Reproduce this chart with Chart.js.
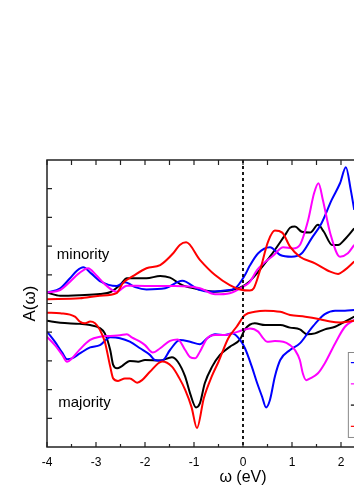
<!DOCTYPE html>
<html lang="en">

<head>
    <meta charset="UTF-8">
    <title>A(w) spectral function</title>
    <script src="https://cdn.jsdelivr.net/npm/chart.js"></script>
    <style>
        html, body { margin: 0; padding: 0; overflow: hidden; background: #fff; }
        canvas { display: block; }
    </style>
</head>

<body>
    <canvas id="grafico" width="480" height="487"></canvas>

<script>
    // omega (eV) and A(omega), minority (upper) and majority (lower)
    const minBlackX = [-4.0, -3.73, -3.33, -2.92, -2.7, -2.51, -2.37, -1.97, -1.69, -1.49, -1.24, -0.88, -0.57, -0.27, -0.06, 0.14, 0.55, 0.86, 0.96, 1.06, 1.2, 1.37, 1.53, 1.65, 1.82, 1.94, 2.08, 2.27];
    const minBlackY = [5.38, 5.27, 5.29, 5.33, 5.40, 5.64, 5.88, 5.88, 5.96, 5.90, 5.64, 5.49, 5.41, 5.45, 5.55, 5.78, 6.63, 7.39, 7.64, 7.68, 7.50, 7.47, 7.74, 7.50, 7.04, 7.04, 7.24, 7.62];

    const minRedX = [-4.0, -3.33, -2.92, -2.58, -2.45, -2.24, -1.97, -1.69, -1.42, -1.29, -1.16, -0.88, -0.57, -0.27, -0.06, 0.14, 0.22, 0.35, 0.51, 0.65, 0.8, 0.96, 1.16, 1.47, 1.78, 1.94, 2.08, 2.27];
    const minRedY = [5.15, 5.18, 5.27, 5.36, 5.71, 5.96, 6.23, 6.34, 6.76, 7.04, 7.13, 6.52, 5.99, 5.64, 5.49, 5.45, 5.53, 6.17, 7.15, 7.54, 7.47, 6.98, 6.63, 6.40, 6.11, 6.03, 6.17, 6.46];

    const minBlueX = [-4.0, -3.73, -3.53, -3.39, -3.26, -3.1, -2.9, -2.58, -2.41, -2.2, -1.97, -1.59, -1.24, -0.91, -0.64, -0.37, -0.16, 0.04, 0.14, 0.31, 0.55, 0.76, 0.99, 1.2, 1.4, 1.6, 1.81, 1.98, 2.1, 2.2, 2.27];
    const minBlueY = [5.38, 5.53, 5.88, 6.14, 6.26, 6.05, 5.76, 5.61, 5.74, 5.57, 5.49, 5.53, 5.79, 5.49, 5.41, 5.45, 5.53, 5.99, 6.32, 6.75, 6.96, 6.69, 6.63, 6.75, 7.27, 7.79, 8.61, 9.19, 9.75, 8.95, 8.26];

    const minMagX = [-4.0, -3.73, -3.53, -3.35, -3.16, -3.0, -2.8, -2.58, -2.37, -2.0, -1.39, -0.88, -0.57, -0.27, 0.04, 0.14, 0.29, 0.63, 0.82, 1.02, 1.16, 1.33, 1.45, 1.54, 1.63, 1.78, 1.98, 2.14, 2.27];
    const minMagY = [5.38, 5.47, 5.76, 6.05, 6.23, 5.99, 5.64, 5.41, 5.62, 5.61, 5.61, 5.53, 5.32, 5.36, 5.62, 5.75, 6.17, 6.69, 6.96, 6.92, 7.04, 7.91, 8.84, 9.19, 8.61, 7.45, 6.63, 6.75, 7.04];

    const majBlackX = [-4.0, -3.73, -3.33, -3.12, -2.92, -2.82, -2.71, -2.65, -2.57, -2.47, -2.31, -2.14, -2.0, -1.69, -1.45, -1.33, -1.18, -1.08, -0.96, -0.88, -0.78, -0.63, -0.47, -0.27, -0.06, 0.04, 0.24, 0.45, 0.76, 0.96, 1.16, 1.31, 1.47, 1.67, 1.88, 2.08, 2.27];
    const majBlackY = [4.40, 4.33, 4.29, 4.25, 4.14, 3.96, 3.38, 2.86, 2.74, 2.82, 3.00, 2.97, 3.03, 3.01, 3.13, 2.97, 2.45, 1.87, 1.38, 1.52, 2.22, 2.80, 3.21, 3.49, 3.75, 4.10, 4.31, 4.25, 4.25, 4.16, 4.10, 3.93, 3.96, 4.10, 4.19, 4.37, 4.54];

    const majRedX = [-4.0, -3.73, -3.43, -3.33, -3.22, -3.12, -3.02, -2.92, -2.82, -2.71, -2.65, -2.55, -2.41, -2.31, -2.16, -2.06, -1.9, -1.65, -1.45, -1.3, -1.18, -1.05, -0.94, -0.8, -0.64, -0.5, -0.3, -0.13, 0.04, 0.24, 0.45, 0.76, 0.96, 1.27, 1.57, 1.78, 1.98, 2.27];
    const majRedY = [4.68, 4.66, 4.54, 4.37, 4.31, 4.37, 4.31, 4.08, 3.67, 2.80, 2.39, 2.30, 2.39, 2.39, 2.24, 2.33, 2.62, 2.98, 2.80, 2.40, 1.99, 1.39, 0.66, 1.70, 2.45, 2.97, 3.79, 4.19, 4.60, 4.71, 4.75, 4.71, 4.60, 4.54, 4.45, 4.37, 4.34, 4.40];

    const majBlueX = [-4.0, -3.84, -3.69, -3.59, -3.49, -3.33, -3.12, -2.92, -2.71, -2.51, -2.31, -2.1, -1.9, -1.8, -1.65, -1.49, -1.29, -1.08, -0.88, -0.73, -0.57, -0.37, -0.22, -0.06, 0.04, 0.18, 0.29, 0.39, 0.47, 0.55, 0.65, 0.76, 0.96, 1.16, 1.37, 1.51, 1.67, 1.88, 2.08, 2.27];
    const majBlueY = [4.02, 3.67, 3.29, 3.06, 3.09, 3.26, 3.47, 3.55, 3.82, 3.79, 3.67, 3.44, 3.21, 3.03, 3.01, 3.38, 3.73, 3.67, 3.58, 3.79, 3.93, 3.90, 3.96, 3.73, 3.44, 2.80, 2.22, 1.75, 1.38, 1.64, 2.45, 3.03, 3.38, 3.61, 4.08, 4.37, 4.63, 4.75, 4.75, 4.77];

    const majMagX = [-4.0, -3.84, -3.69, -3.59, -3.49, -3.33, -3.12, -2.92, -2.71, -2.51, -2.37, -2.27, -2.1, -2.0, -1.84, -1.69, -1.49, -1.33, -1.18, -1.08, -0.98, -0.88, -0.73, -0.57, -0.37, -0.22, -0.06, 0.14, 0.31, 0.39, 0.49, 0.65, 0.82, 0.96, 1.06, 1.16, 1.22, 1.29, 1.37, 1.53, 1.67, 1.88, 2.08, 2.27];
    const majMagY = [3.84, 3.55, 3.21, 2.97, 3.09, 3.40, 3.73, 3.84, 3.87, 3.89, 3.93, 3.82, 3.67, 3.55, 3.29, 3.44, 3.70, 3.75, 3.38, 3.13, 3.09, 3.32, 3.79, 3.90, 3.90, 3.96, 4.04, 4.13, 4.02, 3.84, 3.67, 3.69, 3.67, 3.55, 3.38, 3.03, 2.57, 2.33, 2.39, 2.57, 2.92, 3.61, 4.19, 4.43];

    const xTicks = [-4, -3, -2, -1, 0, 1, 2, 3, 4];
    const legendColors = ['#0000ff', '#ff00ff', '#000000', '#ff0000'];

    const fonte = "'Liberation Sans', Arial, sans-serif";

    function pontos(xs, ys) {
        return xs.map((x, i) => ({ x: x, y: ys[i] }));
    }

    function serie(xs, ys, cor) {
        return {
            data: pontos(xs, ys),
            borderColor: cor,
            borderWidth: 2,
            pointRadius: 0,
            fill: false,
            cubicInterpolationMode: 'monotone'
        };
    }

    // frame, inward ticks, dashed zero line, labels and the cut-off legend box
    const extras = {
        id: 'extras',
        afterDatasetsDraw(chart) {
            const ctx = chart.ctx;
            const a = chart.chartArea;
            const sx = chart.scales.x;
            const sy = chart.scales.y;

            ctx.save();
            // dashed line at omega = 0
            ctx.strokeStyle = '#000';
            ctx.lineWidth = 1.8;
            ctx.setLineDash([3, 3]);
            ctx.beginPath();
            ctx.moveTo(sx.getPixelForValue(0), a.top);
            ctx.lineTo(sx.getPixelForValue(0), a.bottom);
            ctx.stroke();
            ctx.setLineDash([]);

            // frame
            ctx.strokeStyle = '#222';
            ctx.lineWidth = 1.5;
            ctx.strokeRect(a.left, a.top, a.right - a.left, a.bottom - a.top);

            // ticks pointing inward
            ctx.lineWidth = 1.2;
            ctx.beginPath();
            for (let v = -4; v <= 4; v += 0.5) {
                const px = sx.getPixelForValue(v);
                const major = Number.isInteger(v);
                ctx.moveTo(px, a.bottom);
                ctx.lineTo(px, a.bottom - (major ? 5 : 3));
                ctx.moveTo(px, a.top);
                ctx.lineTo(px, a.top + 5);
            }
            for (let v = 1; v < 10; v++) {
                const py = sy.getPixelForValue(v);
                ctx.moveTo(a.left, py);
                ctx.lineTo(a.left + 5, py);
            }
            ctx.stroke();

            // labels
            ctx.fillStyle = '#000';
            ctx.font = '15px ' + fonte;
            ctx.textBaseline = 'alphabetic';
            ctx.textAlign = 'left';
            ctx.fillText('minority', sx.getPixelForValue(-3.8), sy.getPixelForValue(6.55));
            ctx.fillText('majority', sx.getPixelForValue(-3.77), sy.getPixelForValue(1.39));

            // legend box (mostly outside the picture)
            const lx = sx.getPixelForValue(2.14);
            const lt = sy.getPixelForValue(3.31);
            const lb = sy.getPixelForValue(0.35);
            ctx.fillStyle = '#fff';
            ctx.fillRect(lx, lt, 120, lb - lt);
            ctx.strokeStyle = '#888';
            ctx.lineWidth = 1;
            ctx.strokeRect(lx + 0.5, lt + 0.5, 120, lb - lt);
            legendColors.forEach((c, i) => {
                const y = lt + (lb - lt) * (i + 0.5) / legendColors.length;
                ctx.strokeStyle = c;
                ctx.lineWidth = 1.2;
                ctx.beginPath();
                ctx.moveTo(lx + 3, y);
                ctx.lineTo(lx + 25, y);
                ctx.stroke();
            });
            ctx.restore();
        }
    };

    new Chart(document.getElementById('grafico'), {
        type: 'line',
        data: {
            datasets: [
                serie(minRedX, minRedY, '#ff0000'),
                serie(majRedX, majRedY, '#ff0000'),
                serie(minMagX, minMagY, '#ff00ff'),
                serie(majMagX, majMagY, '#ff00ff'),
                serie(minBlueX, minBlueY, '#0000ff'),
                serie(majBlueX, majBlueY, '#0000ff'),
                serie(minBlackX, minBlackY, '#000000'),
                serie(majBlackX, majBlackY, '#000000')
            ]
        },
        options: {
            responsive: false,
            animation: false,
            devicePixelRatio: 1,
            layout: { padding: { top: 160, right: 41, left: 0, bottom: 0 } },
            plugins: {
                legend: { display: false },
                tooltip: { enabled: false }
            },
            scales: {
                x: {
                    type: 'linear',
                    min: -4,
                    max: 4,
                    afterBuildTicks: (s) => { s.ticks = xTicks.map(v => ({ value: v })); },
                    afterFit: (s) => { s.height = 40; },
                    grid: { display: false, drawTicks: false },
                    border: { display: false },
                    ticks: {
                        color: '#000',
                        padding: 8,
                        font: { family: fonte, size: 12 },
                        callback: (v) => String(v)
                    },
                    title: {
                        display: true,
                        text: 'ω (eV)',
                        color: '#000',
                        font: { family: fonte, size: 16 },
                        padding: { top: 0, bottom: 0 }
                    }
                },
                y: {
                    type: 'linear',
                    min: 0,
                    max: 10,
                    afterFit: (s) => { s.width = 47; },
                    grid: { display: false, drawTicks: false },
                    border: { display: false },
                    ticks: { display: false, stepSize: 1 },
                    title: {
                        display: true,
                        text: 'A(ω)',
                        color: '#000',
                        font: { family: fonte, size: 17 },
                        padding: { top: 20, bottom: 0 }
                    }
                }
            }
        },
        plugins: [extras]
    });
</script>
</body>

</html>
